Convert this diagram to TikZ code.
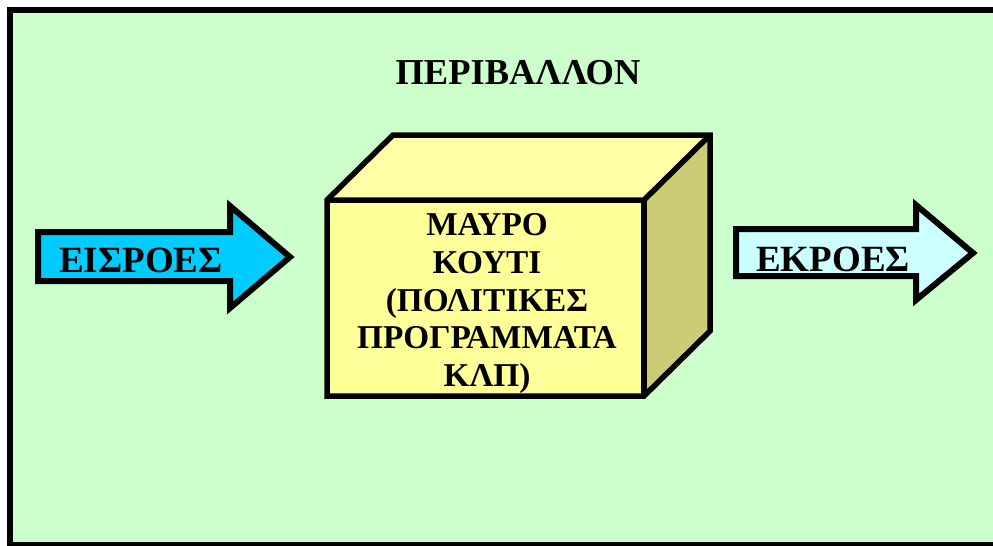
\documentclass[tikz,border=0pt]{standalone}
\usepackage{fontspec}
\setmainfont{Liberation Serif}
\definecolor{envgreen}{HTML}{CCFFCC}
\definecolor{incyan}{HTML}{00CCFF}
\definecolor{outcyan}{HTML}{CCFFFF}
\definecolor{boxfront}{HTML}{FFFF99}
\definecolor{boxtop}{HTML}{FFFFA8}
\definecolor{boxside}{HTML}{CCCC77}
\begin{document}
\begin{tikzpicture}[x=1pt,y=-1pt,
  outline/.style={draw=black,line width=6pt,line join=miter},
  boxline/.style={draw=black,line width=5.5pt,line join=miter},
  bigtext/.style={font=\bfseries\fontsize{37}{42}\selectfont,inner sep=0pt,anchor=base},
  envtext/.style={font=\bfseries\fontsize{36.5}{42}\selectfont,inner sep=0pt,anchor=base},
  boxtext/.style={font=\bfseries\fontsize{33.3}{38}\selectfont,inner sep=0pt,anchor=base}]
\useasboundingbox (0,0) rectangle (993,546);
\fill[white] (0,0) rectangle (993,546);
\begin{scope}
\clip (0,0) rectangle (993,546);
\draw[line width=6pt,fill=envgreen] (10,10) rectangle (1015,545);
\end{scope}
\node[envtext] (env) at (518,84) {ΠΕΡΙΒΑΛΛΟΝ};
% input arrow
\draw[outline,fill=incyan] (38,232) -- (230,232) -- (230,206) -- (290,257) -- (230,308) -- (230,281) -- (38,281) -- cycle;
\node[bigtext] (in) at (141,272) {ΕΙΣΡΟΕΣ};
% output arrow
\draw[outline,fill=outcyan] (736,229) -- (916,229) -- (916,205) -- (973,253) -- (916,300) -- (916,276) -- (736,276) -- cycle;
\node[bigtext] (out) at (833,271) {ΕΚΡΟΕΣ};
% box faces
\fill[boxtop] (327,200) -- (393,135) -- (710,135) -- (644,200) -- cycle;
\fill[boxside] (644,200) -- (710,135) -- (710,331) -- (644,396) -- cycle;
\fill[boxfront] (327,200) rectangle (644,396);
% box edges
\draw[boxline] (327,200) -- (393,135) -- (710,135) -- (710,331) -- (644,396) -- (327,396) -- cycle;
\draw[boxline] (327,200) -- (644,200) -- (710,135);
\draw[boxline] (644,200) -- (644,396);
\node[boxtext] (l1) at (487,235) {ΜΑΥΡΟ};
\node[boxtext] (l2) at (487,273) {ΚΟΥΤΙ};
\node[boxtext] (l3) at (487,311) {(ΠΟΛΙΤΙΚΕΣ};
\node[boxtext] (l4) at (487,348) {ΠΡΟΓΡΑΜΜΑΤΑ};
\node[boxtext] (l5) at (487,386) {ΚΛΠ)};
\end{tikzpicture}
\end{document}
